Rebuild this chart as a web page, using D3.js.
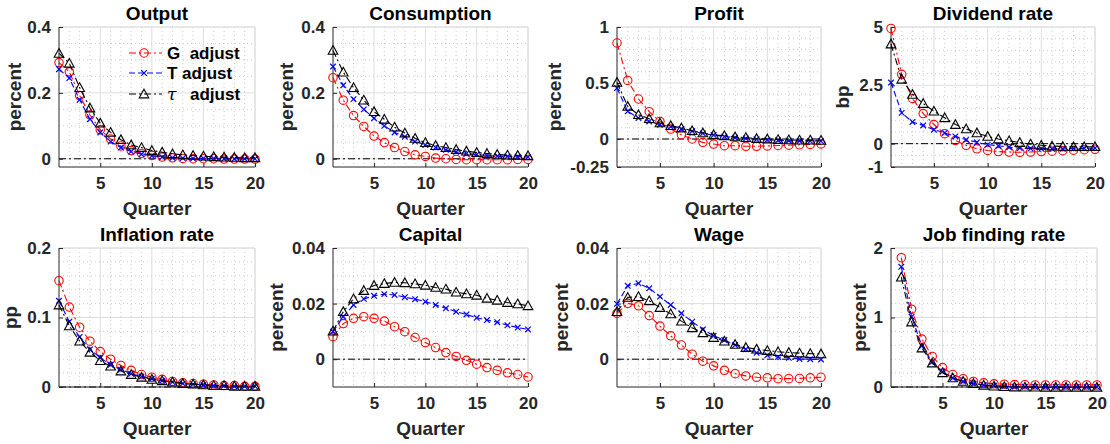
<!DOCTYPE html>
<html>
<head>
<meta charset="utf-8">
<script src="https://cdn.jsdelivr.net/npm/d3@7/dist/d3.min.js"></script>
<style>
  html, body { margin: 0; padding: 0; background: #fff; }
  svg { display: block; font-family: "Liberation Sans", Arial, Helvetica, sans-serif; }
</style>
</head>
<body>
<svg id="chart" width="1110" height="444"></svg>
<script>
// Impulse responses over 20 quarters under three fiscal adjustment rules
const quarters = d3.range(1, 21);
const seriesNames = ["G  adjust", "T adjust", "τ  adjust"];

const outputG   = [0.292, 0.264, 0.192, 0.133, 0.088, 0.060, 0.039, 0.025, 0.016, 0.010, 0.005, 0.003, 0.001, 0.000, 0.000, 0.000, -0.001, -0.001, -0.001, -0.001];
const outputT   = [0.272, 0.245, 0.179, 0.120, 0.080, 0.052, 0.034, 0.022, 0.014, 0.009, 0.005, 0.003, 0.002, 0.001, 0.001, 0.001, 0.000, 0.000, 0.000, 0.000];
const outputTau = [0.320, 0.290, 0.216, 0.154, 0.108, 0.080, 0.058, 0.042, 0.034, 0.025, 0.020, 0.015, 0.012, 0.010, 0.008, 0.006, 0.005, 0.004, 0.003, 0.003];

const consG   = [0.246, 0.178, 0.131, 0.098, 0.069, 0.049, 0.034, 0.022, 0.012, 0.007, 0.002, 0.000, -0.002, -0.003, -0.003, -0.003, -0.003, -0.003, -0.002, -0.002];
const consT   = [0.280, 0.223, 0.181, 0.150, 0.123, 0.100, 0.080, 0.067, 0.052, 0.042, 0.034, 0.027, 0.021, 0.016, 0.013, 0.010, 0.008, 0.007, 0.006, 0.005];
const consTau = [0.329, 0.263, 0.216, 0.178, 0.143, 0.120, 0.096, 0.078, 0.062, 0.049, 0.040, 0.034, 0.028, 0.023, 0.019, 0.016, 0.013, 0.011, 0.010, 0.009];

const profitG   = [0.857, 0.523, 0.357, 0.244, 0.157, 0.089, 0.038, 0.000, -0.030, -0.045, -0.060, -0.060, -0.065, -0.065, -0.062, -0.058, -0.055, -0.052, -0.048, -0.044];
const profitT   = [0.455, 0.247, 0.188, 0.157, 0.128, 0.110, 0.090, 0.070, 0.050, 0.035, 0.022, 0.012, 0.004, -0.003, -0.008, -0.012, -0.015, -0.017, -0.018, -0.019];
const profitTau = [0.505, 0.291, 0.217, 0.181, 0.143, 0.119, 0.098, 0.074, 0.054, 0.038, 0.029, 0.018, 0.012, 0.004, 0.000, -0.005, -0.008, -0.010, -0.010, -0.012];

const divG   = [4.94, 2.97, 1.94, 1.29, 0.82, 0.43, 0.14, -0.07, -0.22, -0.29, -0.34, -0.36, -0.37, -0.36, -0.34, -0.32, -0.30, -0.28, -0.26, -0.24];
const divT   = [2.62, 1.32, 0.93, 0.78, 0.60, 0.46, 0.31, 0.17, 0.06, -0.04, -0.09, -0.15, -0.19, -0.21, -0.22, -0.22, -0.22, -0.21, -0.20, -0.19];
const divTau = [4.27, 2.76, 2.11, 1.72, 1.39, 1.11, 0.82, 0.63, 0.46, 0.31, 0.20, 0.12, 0.05, -0.02, -0.07, -0.10, -0.12, -0.13, -0.13, -0.13];

const inflG   = [0.153, 0.115, 0.086, 0.066, 0.051, 0.040, 0.031, 0.024, 0.018, 0.014, 0.011, 0.008, 0.006, 0.005, 0.004, 0.003, 0.002, 0.002, 0.001, 0.001];
const inflT   = [0.124, 0.094, 0.072, 0.054, 0.042, 0.032, 0.025, 0.019, 0.015, 0.012, 0.009, 0.007, 0.005, 0.004, 0.003, 0.002, 0.002, 0.001, 0.001, 0.001];
const inflTau = [0.118, 0.088, 0.066, 0.050, 0.038, 0.030, 0.023, 0.018, 0.014, 0.011, 0.009, 0.007, 0.005, 0.004, 0.003, 0.002, 0.002, 0.001, 0.001, 0.001];

const capG   = [0.0081, 0.0128, 0.0147, 0.0153, 0.0147, 0.0137, 0.0117, 0.0099, 0.0078, 0.0060, 0.0042, 0.0024, 0.0010, -0.0004, -0.0018, -0.0030, -0.0040, -0.0049, -0.0055, -0.0064];
const capT   = [0.0099, 0.0153, 0.0195, 0.0217, 0.0228, 0.0234, 0.0231, 0.0223, 0.0216, 0.0207, 0.0195, 0.0183, 0.0171, 0.0161, 0.0149, 0.0141, 0.0133, 0.0122, 0.0114, 0.0107];
const capTau = [0.0101, 0.0171, 0.0217, 0.0247, 0.0265, 0.0272, 0.0276, 0.0275, 0.0271, 0.0266, 0.0258, 0.0252, 0.0241, 0.0235, 0.0230, 0.0219, 0.0212, 0.0204, 0.0199, 0.0192];

const wageG   = [0.0165, 0.0201, 0.0192, 0.0157, 0.0119, 0.0084, 0.0051, 0.0018, -0.0007, -0.0024, -0.0040, -0.0052, -0.0060, -0.0065, -0.0067, -0.0070, -0.0070, -0.0069, -0.0067, -0.0065];
const wageT   = [0.0199, 0.0264, 0.0273, 0.0255, 0.0225, 0.0195, 0.0165, 0.0135, 0.0107, 0.0084, 0.0069, 0.0051, 0.0036, 0.0023, 0.0014, 0.0008, 0.0005, 0.0001, 0.0000, -0.0001];
const wageTau = [0.0171, 0.0222, 0.0225, 0.0210, 0.0186, 0.0163, 0.0137, 0.0113, 0.0095, 0.0078, 0.0065, 0.0053, 0.0042, 0.0036, 0.0031, 0.0027, 0.0024, 0.0022, 0.0020, 0.0019];

const jobG   = [1.86, 1.12, 0.69, 0.44, 0.28, 0.18, 0.12, 0.08, 0.06, 0.045, 0.040, 0.035, 0.033, 0.030, 0.030, 0.030, 0.030, 0.030, 0.030, 0.030];
const jobT   = [1.73, 1.01, 0.59, 0.36, 0.22, 0.13, 0.08, 0.05, 0.03, 0.020, 0.010, 0.005, 0.003, 0.002, 0.001, 0.000, 0.000, 0.000, 0.000, 0.000];
const jobTau = [1.58, 0.935, 0.56, 0.345, 0.205, 0.13, 0.08, 0.048, 0.025, 0.012, 0.005, 0.000, -0.002, -0.003, -0.004, -0.004, -0.004, -0.004, -0.004, -0.004];

const xTicks = [5, 10, 15, 20];

// Panel definitions: title, unit label, y range, y ticks/labels, minor step, series
const panels = [
  { title: "Output", ylab: "percent", ydom: [-0.025, 0.4], yticks: [0, 0.2, 0.4], ytickText: ["0", "0.2", "0.4"], minor: 0.05, xdom: [1, 20], data: [outputG, outputT, outputTau], legend: true },
  { title: "Consumption", ylab: "percent", ydom: [-0.025, 0.4], yticks: [0, 0.2, 0.4], ytickText: ["0", "0.2", "0.4"], minor: 0.05, xdom: [1, 20], data: [consG, consT, consTau] },
  { title: "Profit", ylab: "percent", ydom: [-0.25, 1], yticks: [-0.25, 0, 0.5, 1], ytickText: ["-0.25", "0", "0.5", "1"], minor: 0.1, xdom: [1, 20], data: [profitG, profitT, profitTau] },
  { title: "Dividend rate", ylab: "bp", ydom: [-1, 5], yticks: [-1, 0, 2.5, 5], ytickText: ["-1", "0", "2.5", "5"], minor: 0.5, xdom: [1, 20], data: [divG, divT, divTau] },
  { title: "Inflation rate", ylab: "pp", ydom: [0, 0.2], yticks: [0, 0.1, 0.2], ytickText: ["0", "0.1", "0.2"], minor: 0.02, xdom: [1, 20], data: [inflG, inflT, inflTau] },
  { title: "Capital", ylab: "percent", ydom: [-0.01, 0.04], yticks: [0, 0.02, 0.04], ytickText: ["0", "0.02", "0.04"], minor: 0.005, xdom: [1, 20], data: [capG, capT, capTau] },
  { title: "Wage", ylab: "percent", ydom: [-0.01, 0.04], yticks: [0, 0.02, 0.04], ytickText: ["0", "0.02", "0.04"], minor: 0.005, xdom: [1, 20], data: [wageG, wageT, wageTau] },
  { title: "Job finding rate", ylab: "percent", ydom: [0, 2], yticks: [0, 1, 2], ytickText: ["0", "1", "2"], minor: 0.2, xdom: [0, 20], data: [jobG, jobT, jobTau] }
];

// Axes boxes in pixels and y-label baseline positions
const boxes = [
  { l: 59,  r: 255,  t: 27,  b: 167, labX: 21 },
  { l: 333, r: 528,  t: 27,  b: 167, labX: 293 },
  { l: 617, r: 821,  t: 27,  b: 167, labX: 561 },
  { l: 891, r: 1095, t: 27,  b: 167, labX: 849 },
  { l: 59,  r: 255,  t: 248, b: 387, labX: 17 },
  { l: 333, r: 528,  t: 248, b: 387, labX: 283 },
  { l: 617, r: 821,  t: 248, b: 387, labX: 568 },
  { l: 891, r: 1097, t: 248, b: 387, labX: 866 }
];

const styles = [
  { color: "#ff0000", dash: "7,3,2,3", marker: "circle" },
  { color: "#0000ff", dash: "6,3",     marker: "cross" },
  { color: "#000000", dash: "7,3,2,3", marker: "triangle" }
];

const svg = d3.select("#chart");
const axisColor = "#262626";
const gridColor = "#dedede";
const minorColor = "#bdbdbd";

function drawMarker(g, type, x, y, color) {
  if (type === "circle") {
    g.append("circle").attr("cx", x).attr("cy", y).attr("r", 4.2)
      .attr("fill", "none").attr("stroke", color).attr("stroke-width", 1.1);
  } else if (type === "cross") {
    const s = 2.8;
    g.append("path").attr("d", `M${x - s},${y - s}L${x + s},${y + s}M${x - s},${y + s}L${x + s},${y - s}`)
      .attr("stroke", color).attr("stroke-width", 1.2).attr("fill", "none");
  } else {
    const h = 4.8;
    g.append("path").attr("d", `M${x},${y - h}L${x + h},${y + h * 0.8}L${x - h},${y + h * 0.8}Z`)
      .attr("fill", "none").attr("stroke", color).attr("stroke-width", 1.1);
  }
}

panels.forEach((p, i) => {
  const bx = boxes[i];
  const x = d3.scaleLinear().domain(p.xdom).range([bx.l, bx.r]);
  const y = d3.scaleLinear().domain(p.ydom).range([bx.b, bx.t]);
  const g = svg.append("g");

  // minor grid (dotted)
  const xMinor = d3.range(Math.ceil(p.xdom[0]), p.xdom[1] + 0.001, 1).filter(v => !xTicks.includes(v) && v !== p.xdom[0]);
  g.selectAll(".xm").data(xMinor).join("line")
    .attr("x1", d => x(d)).attr("x2", d => x(d)).attr("y1", bx.t).attr("y2", bx.b)
    .attr("stroke", minorColor).attr("stroke-width", 0.8).attr("stroke-dasharray", "1,3");
  const yMinor = [];
  for (let v = Math.ceil(p.ydom[0] / p.minor - 1e-6) * p.minor; v <= p.ydom[1] + 1e-9; v += p.minor) {
    const vv = +v.toFixed(6);
    if (!p.yticks.some(t => Math.abs(t - vv) < 1e-9) && vv > p.ydom[0] + 1e-9 && vv < p.ydom[1] - 1e-9) yMinor.push(vv);
  }
  g.selectAll(".ym").data(yMinor).join("line")
    .attr("x1", bx.l).attr("x2", bx.r).attr("y1", d => y(d)).attr("y2", d => y(d))
    .attr("stroke", minorColor).attr("stroke-width", 0.8).attr("stroke-dasharray", "1,3");

  // major grid
  g.selectAll(".xg").data(xTicks).join("line")
    .attr("x1", d => x(d)).attr("x2", d => x(d)).attr("y1", bx.t).attr("y2", bx.b)
    .attr("stroke", gridColor).attr("stroke-width", 1);
  g.selectAll(".yg").data(p.yticks).join("line")
    .attr("x1", bx.l).attr("x2", bx.r).attr("y1", d => y(d)).attr("y2", d => y(d))
    .attr("stroke", gridColor).attr("stroke-width", 1);

  // top and right edges
  g.append("path").attr("d", `M${bx.l},${bx.t}H${bx.r}V${bx.b}`)
    .attr("fill", "none").attr("stroke", gridColor).attr("stroke-width", 1);

  // zero reference line
  g.append("line").attr("x1", bx.l).attr("x2", bx.r).attr("y1", y(0)).attr("y2", y(0))
    .attr("stroke", "#000").attr("stroke-width", 1).attr("stroke-dasharray", "7,3,2,3");

  // axes
  const xAxis = d3.axisBottom(x).tickValues(xTicks).tickSize(-4).tickPadding(10).tickFormat(d3.format("d"));
  const gx = g.append("g").attr("transform", `translate(0,${bx.b})`).call(xAxis);
  const yAxis = d3.axisLeft(y).tickValues(p.yticks).tickSize(-4).tickPadding(8)
    .tickFormat((d, k) => p.ytickText[k]);
  const gy = g.append("g").attr("transform", `translate(${bx.l},0)`).call(yAxis);
  [gx, gy].forEach(a => {
    a.select(".domain").attr("stroke", axisColor).attr("stroke-width", 1);
    a.selectAll(".tick line").attr("stroke", axisColor);
    a.selectAll(".tick text").attr("fill", axisColor).attr("font-size", 17).attr("font-weight", "bold")
      .attr("font-family", "'Liberation Sans', Arial, sans-serif");
  });
  gx.select(".domain").attr("d", `M${bx.l},0H${bx.r}`);
  gy.select(".domain").attr("d", `M0,${bx.b}V${bx.t}`);

  // series
  p.data.forEach((vals, s) => {
    const st = styles[s];
    const pts = quarters.map((q, k) => [q, vals[k]]);
    g.append("path").datum(pts)
      .attr("d", d3.line().x(d => x(d[0])).y(d => y(d[1])))
      .attr("fill", "none").attr("stroke", st.color).attr("stroke-width", 1.1)
      .attr("stroke-dasharray", st.dash);
    pts.forEach(d => drawMarker(g, st.marker, x(d[0]), y(d[1]), st.color));
  });

  // title, labels
  svg.append("text").attr("x", (bx.l + bx.r) / 2).attr("y", bx.t - 7)
    .attr("text-anchor", "middle").attr("font-size", 19).attr("font-weight", "bold").attr("fill", "#000")
    .text(p.title);
  svg.append("text").attr("x", (bx.l + bx.r) / 2).attr("y", bx.b + 48)
    .attr("text-anchor", "middle").attr("font-size", 19).attr("font-weight", "bold").attr("fill", axisColor)
    .text("Quarter");
  svg.append("text")
    .attr("transform", `translate(${bx.labX},${(bx.t + bx.b) / 2}) rotate(-90)`)
    .attr("text-anchor", "middle").attr("font-size", 19).attr("font-weight", "bold").attr("fill", axisColor)
    .text(p.ylab);

  // legend
  if (p.legend) {
    const lg = svg.append("g");
    const rows = [53, 73, 94];
    seriesNames.forEach((name, s) => {
      const st = styles[s];
      lg.append("line").attr("x1", 129).attr("x2", 162).attr("y1", rows[s]).attr("y2", rows[s])
        .attr("stroke", st.color).attr("stroke-width", 1.1).attr("stroke-dasharray", st.dash);
      drawMarker(lg, st.marker, 144, rows[s], st.color);
      if (s === 2) {
        const t = lg.append("text").attr("x", 167).attr("y", rows[s] + 6).attr("font-size", 17).attr("fill", "#000");
        t.append("tspan").attr("font-style", "italic").attr("font-family", "'DejaVu Serif', serif").text("τ");
        t.append("tspan").attr("x", 190).attr("font-weight", "bold").text("adjust");
      } else {
        lg.append("text").attr("x", 167).attr("y", rows[s] + 6).attr("font-size", 17)
          .attr("font-weight", "bold").attr("fill", "#000").attr("xml:space", "preserve")
          .style("white-space", "pre").text(name);
      }
    });
  }
});
</script>
</body>
</html>
